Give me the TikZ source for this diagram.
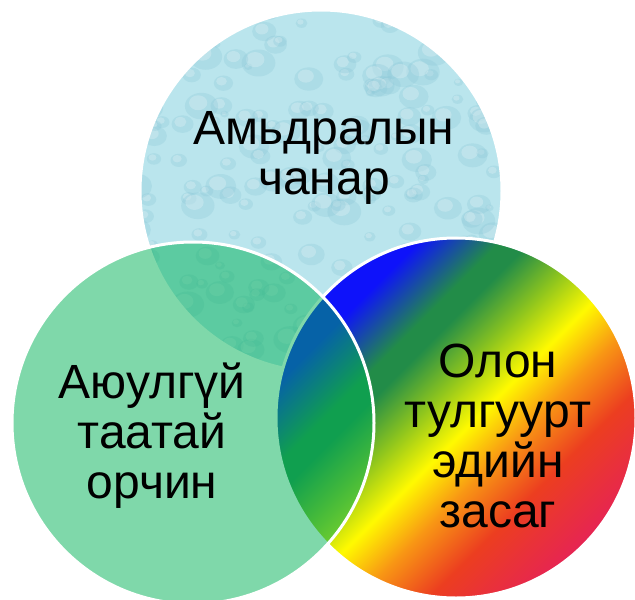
\documentclass[tikz,border=0pt]{standalone}
\usepackage{fontspec}
\setmainfont{Liberation Sans}
\usetikzlibrary{positioning,calc}

\definecolor{waterblue}{RGB}{186,229,237}
\definecolor{dropshade}{RGB}{140,200,216}
\definecolor{leafgreen}{RGB}{0,178,86}
\definecolor{rbblue}{RGB}{14,18,250}
\definecolor{rbgreen}{RGB}{34,140,72}
\definecolor{rblime}{RGB}{140,196,30}
\definecolor{rbyellow}{RGB}{255,250,0}
\definecolor{rborange}{RGB}{248,150,20}
\definecolor{rbred}{RGB}{236,62,32}
\definecolor{rbcrimson}{RGB}{230,36,84}

\pgfdeclarehorizontalshading{rainbow}{100bp}{
	color(0bp)=(rbblue); color(25bp)=(rbblue); color(29bp)=(rbblue);
	color(37bp)=(rbgreen); color(40bp)=(rbgreen); color(46bp)=(rblime);
	color(52bp)=(rbyellow); color(58bp)=(rborange); color(65bp)=(rbred);
	color(75bp)=(rbcrimson); color(100bp)=(rbcrimson)}

\begin{document}
\begin{tikzpicture}[
		x=1pt, y=1pt,
		ring/.style={draw=white, line width=3pt},
		caption/.style={font=\fontsize{48}{50}\selectfont, align=center, text=black},
		droplet/.style={fill=dropshade, opacity=0.3}
		]
		\useasboundingbox (0,0) rectangle (635,-600);
		
		% Centres of the three circles
		\coordinate (life)  at (321,-191);
		\coordinate (safe)  at (193,-423);
		\coordinate (infra) at (456,-418);
		
		% Top circle with water drops
		\fill[waterblue] (life) circle (181pt);
		\begin{scope}
			\clip (life) circle (181pt);
			\pgfmathsetseed{11}
			\foreach \i in {1,...,230} {
				\pgfmathsetmacro\dx{rnd*380-190}
				\pgfmathsetmacro\dy{rnd*380-190}
				\pgfmathsetmacro\dr{4+rnd*13}
				\fill[droplet] ($(life)+(\dx,\dy)$) ellipse ({\dr pt} and {0.8*\dr pt});
				\fill[white, opacity=0.22] ($(life)+(\dx-0.2*\dr,\dy+0.2*\dr)$) ellipse ({0.55*\dr pt} and {0.45*\dr pt});
			}
		\end{scope}
		\draw[ring] (life) circle (181pt);
		
		% Right circle with rainbow
		\begin{scope}[transform canvas={rotate around={-45:(infra)}}]
			\shade[shading=rainbow] (infra) circle (180pt);
		\end{scope}
		\draw[ring] (infra) circle (180pt);
		
		% Left circle, see-through green
		\fill[leafgreen, fill opacity=0.5] (safe) circle (181pt);
		\draw[ring] (safe) circle (181pt);
		
		% Labels
		\node[caption] (lifetext)  at (324,-158) {Амьдралын\\чанар};
		\node[caption] (safetext)  at (152,-436) {Аюулгүй\\таатай\\орчин};
		\node[caption] (infratext) at (498,-436) {Олон\\тулгуурт\\эдийн\\засаг};
		
	\end{tikzpicture}
\end{document}
